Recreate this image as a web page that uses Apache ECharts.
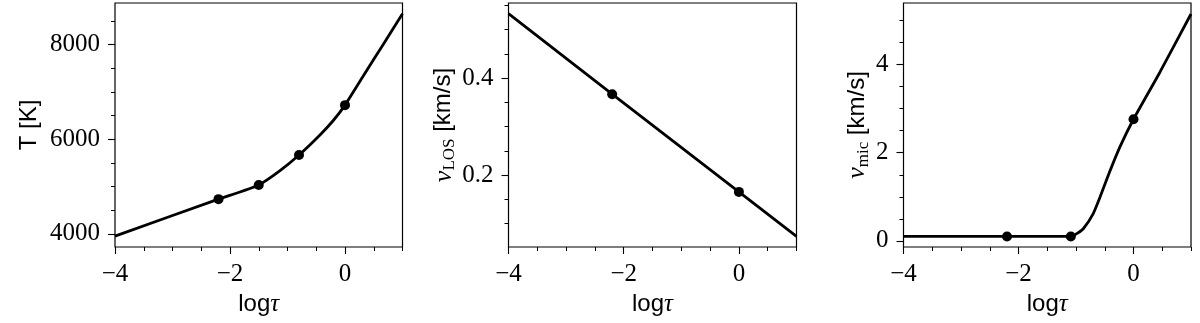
<!DOCTYPE html>
<html>
<head>
<meta charset="utf-8">
<script src="https://cdn.jsdelivr.net/npm/echarts@6/dist/echarts.min.js"></script>
<style>
  html, body { margin: 0; background: #fff; }
  #chart { width: 1200px; height: 323px; }
</style>
</head>
<body>
<div id="chart"></div>
<script>
// log tau samples
var tempX = [-4, -2.2, -1.5, -1.13, -0.8, -0.435, -0.2, 0, 0.32, 0.67, 1]
var tempY = [3950, 4732, 5033, 5335, 5666, 6090, 6400, 6720, 7340, 8015, 8653]
var tempNodeX = [-2.2, -1.5, -0.8, 0]
var tempNodeY = [4732, 5033, 5666, 6720]

var losX = [-4, -2.2, 0, 1]
var losY = [0.533, 0.367, 0.1656, 0.074]
var losNodeX = [-2.2, 0]
var losNodeY = [0.367, 0.1656]

var micX = [-4, -2.2, -1.09, -0.98, -0.87, -0.7, -0.58, -0.405, -0.23, 0, 0.464, 1]
var micY = [0.1, 0.1, 0.1, 0.17, 0.28, 0.62, 1.0, 1.6, 2.15, 2.76, 3.84, 5.15]
var micNodeX = [-2.2, -1.09, 0]
var micNodeY = [0.1, 0.1, 2.76]

// tick positions
var xMajor = [-4, -2, 0]
var xMinor = [-3.5, -3, -2.5, -1.5, -1, -0.5, 0.5, 1]
var tempMajor = [4000, 6000, 8000]
var tempMinor = [4500, 5000, 5500, 6500, 7000, 7500, 8500]
var losMajor = [0.2, 0.4]
var losMinor = [0.1, 0.15, 0.25, 0.3, 0.35, 0.45, 0.5, 0.55]
var micMajor = [0, 2, 4]
var micMinor = [0.5, 1, 1.5, 2.5, 3, 3.5, 4.5, 5]

var serif = 'Liberation Serif'
var sans = 'Liberation Sans'

function pairs(xs, ys) {
  var out = []
  for (let i = 0; i < xs.length; i++) {
    out.push([xs[i], ys[i]])
  }
  return out
}

function fmt(v) {
  return String(v).replace('-', '\u2212')
}

var grids = [
  { left: 115, top: 3, width: 287.5, height: 244 },
  { left: 508.5, top: 3, width: 288, height: 244 },
  { left: 903.5, top: 3, width: 287.5, height: 244 }
]

var yRanges = [[3720, 8880], [0.052, 0.555], [-0.14, 5.4]]
var yMajors = [tempMajor, losMajor, micMajor]
var yMinors = [tempMinor, losMinor, micMinor]

var yNames = [
  { text: 'T [K]', gap: 74 },
  { text: '{v|v}{s|LOS} {u|[km/s]}', gap: 47 },
  { text: '{v|v}{s|mic} {u|[km/s]}', gap: 33 }
]

var nameRich = {
  v: { fontFamily: serif, fontStyle: 'italic', fontSize: 26, color: '#000', lineHeight: 26 },
  s: { fontFamily: serif, fontSize: 17, color: '#000', lineHeight: 26, padding: [12, 0, 0, 0] },
  u: { fontFamily: sans, fontSize: 24, color: '#000', lineHeight: 26 },
  a: { fontFamily: sans, fontSize: 24, color: '#000' },
  b: { fontFamily: serif, fontStyle: 'italic', fontSize: 25, color: '#000' }
}

var xAxes = []
var yAxes = []
for (let k = 0; k < 3; k++) {
  xAxes.push({
    type: 'value', gridIndex: k, min: -4, max: 1, position: 'bottom',
    axisLine: { show: false, onZero: false },
    splitLine: { show: false },
    axisTick: { show: true, length: 7, customValues: xMajor, lineStyle: { color: '#000', width: 1.1 } },
    axisLabel: { customValues: xMajor, formatter: fmt, margin: 15, color: '#000', fontFamily: serif, fontSize: 25 },
    name: '{a|log}{b|\u03c4}',
    nameLocation: 'middle', nameGap: 42,
    nameTextStyle: { rich: nameRich }
  })
  xAxes.push({
    type: 'value', gridIndex: k, min: -4, max: 1, position: 'bottom', offset: 0,
    axisLine: { show: false, onZero: false },
    splitLine: { show: false },
    axisTick: { show: true, length: 4, customValues: xMinor, lineStyle: { color: '#000', width: 1 } },
    axisLabel: { show: false }
  })
  yAxes.push({
    type: 'value', gridIndex: k, min: yRanges[k][0], max: yRanges[k][1], position: 'left',
    axisLine: { show: false, onZero: false },
    splitLine: { show: false },
    axisTick: { show: true, length: 7, customValues: yMajors[k], lineStyle: { color: '#000', width: 1.1 } },
    axisLabel: { customValues: yMajors[k], formatter: fmt, margin: 15, color: '#000', fontFamily: serif, fontSize: 25 },
    name: yNames[k].text,
    nameLocation: 'middle', nameGap: yNames[k].gap,
    nameTextStyle: { fontFamily: sans, fontSize: 24, color: '#000', rich: nameRich }
  })
  yAxes.push({
    type: 'value', gridIndex: k, min: yRanges[k][0], max: yRanges[k][1], position: 'left', offset: 0,
    axisLine: { show: false, onZero: false },
    splitLine: { show: false },
    axisTick: { show: true, length: 4, customValues: yMinors[k], lineStyle: { color: '#000', width: 1 } },
    axisLabel: { show: false }
  })
}

var curves = [pairs(tempX, tempY), pairs(losX, losY), pairs(micX, micY)]
var nodes = [pairs(tempNodeX, tempNodeY), pairs(losNodeX, losNodeY), pairs(micNodeX, micNodeY)]
var smoothness = [0.2, false, 0.2]

var series = []
for (let k = 0; k < 3; k++) {
  series.push({
    type: 'line', xAxisIndex: 2 * k, yAxisIndex: 2 * k,
    data: curves[k], smooth: smoothness[k], showSymbol: false, clip: true,
    lineStyle: { color: '#000', width: 2.8 }
  })
  series.push({
    type: 'scatter', xAxisIndex: 2 * k, yAxisIndex: 2 * k,
    data: nodes[k], symbolSize: 10,
    itemStyle: { color: '#000', opacity: 1 }
  })
}

var chart = echarts.init(document.getElementById('chart'), null, { renderer: 'canvas' })
chart.setOption({
  animation: false,
  grid: grids.map(function (g) {
    return Object.assign({ show: true, borderColor: '#000', borderWidth: 1.2, backgroundColor: 'transparent' }, g)
  }),
  xAxis: xAxes,
  yAxis: yAxes,
  series: series
})
</script>
</body>
</html>
